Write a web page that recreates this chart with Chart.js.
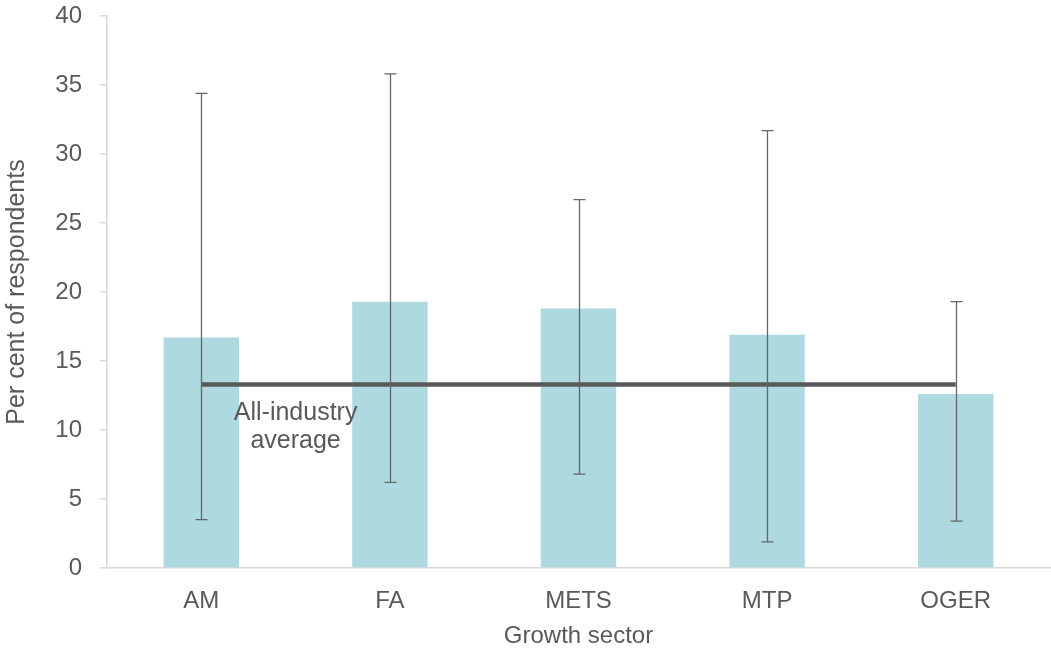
<!DOCTYPE html>
<html lang="en">

<head>
    <meta charset="UTF-8">
    <title>Growth sector chart</title>
    <script src="https://cdn.jsdelivr.net/npm/chart.js"></script>
    <style>
        body {
            margin: 0;
            background: #fff;
        }

        #chart-container {
            width: 1051px;
            height: 651px;
        }
    </style>
</head>

<body>
    <div id="chart-container">
        <canvas id="sectorChart"></canvas>
    </div>

    <script>
        // data
        var sectors = ['AM', 'FA', 'METS', 'MTP', 'OGER'];
        var shares = [16.7, 19.3, 18.8, 16.9, 12.6];
        var errLow = [3.5, 6.2, 6.8, 1.9, 3.4];
        var errHigh = [34.4, 35.8, 26.7, 31.7, 19.3];
        var industryAvg = 13.3;
        var yTicks = [0, 5, 10, 15, 20, 25, 30, 35, 40];

        var fontFamily = '"Liberation Sans", Arial, sans-serif';
        var textColor = '#595959';

        // error bars + average label
        var extras = {
            id: 'extras',
            afterDatasetsDraw: function (chart) {
                var ctx = chart.ctx;
                var x = chart.scales.x;
                var y = chart.scales.y;
                ctx.save();
                ctx.strokeStyle = '#666666';
                ctx.lineWidth = 1.3;
                for (var i = 0; i < sectors.length; i++) {
                    var px = Math.round(x.getPixelForValue(i)) + 0.5;
                    var top = y.getPixelForValue(errHigh[i]);
                    var bot = y.getPixelForValue(errLow[i]);
                    ctx.beginPath();
                    ctx.moveTo(px, top);
                    ctx.lineTo(px, bot);
                    ctx.moveTo(px - 6, top);
                    ctx.lineTo(px + 6, top);
                    ctx.moveTo(px - 6, bot);
                    ctx.lineTo(px + 6, bot);
                    ctx.stroke();
                }
                ctx.fillStyle = textColor;
                ctx.font = '25px ' + fontFamily;
                ctx.textAlign = 'center';
                ctx.textBaseline = 'middle';
                var lx = (x.getPixelForValue(0) + x.getPixelForValue(1)) / 2;
                ctx.fillText('All-industry', lx, y.getPixelForValue(11.2));
                ctx.fillText('average', lx, y.getPixelForValue(9.2));
                ctx.restore();
            }
        };

        var ctx = document.getElementById('sectorChart').getContext('2d');
        var sectorChart = new Chart(ctx, {
            type: 'bar',
            data: {
                labels: sectors,
                datasets: [
                    {
                        type: 'line',
                        label: 'All-industry average',
                        data: sectors.map(function () { return industryAvg; }),
                        borderColor: '#595959',
                        borderWidth: 4.5,
                        pointRadius: 0,
                        order: 0
                    },
                    {
                        label: 'Per cent of respondents',
                        data: shares,
                        backgroundColor: '#aed9e0',
                        barPercentage: 0.4,
                        categoryPercentage: 1,
                        order: 1
                    }
                ]
            },
            options: {
                responsive: true,
                maintainAspectRatio: false,
                animation: false,
                layout: {
                    padding: { top: 16, right: 1, left: 0, bottom: 0 }
                },
                plugins: {
                    legend: { display: false },
                    tooltip: { enabled: false }
                },
                scales: {
                    x: {
                        grid: { display: false },
                        border: { color: '#d9d9d9', width: 1.5 },
                        ticks: {
                            color: textColor,
                            font: { family: fontFamily, size: 24 },
                            padding: 11
                        },
                        title: {
                            display: true,
                            text: 'Growth sector',
                            color: textColor,
                            font: { family: fontFamily, size: 24 },
                            padding: { top: 9, bottom: 0 }
                        },
                        afterFit: function (s) { s.height = 83; }
                    },
                    y: {
                        min: 0,
                        max: 40,
                        afterBuildTicks: function (s) {
                            s.ticks = yTicks.map(function (v) { return { value: v }; });
                        },
                        grid: {
                            drawOnChartArea: false,
                            drawTicks: true,
                            tickLength: 7,
                            color: '#d9d9d9',
                            lineWidth: 1.5
                        },
                        border: { color: '#d9d9d9', width: 1.5 },
                        ticks: {
                            color: textColor,
                            font: { family: fontFamily, size: 24 },
                            padding: 18
                        },
                        title: {
                            display: true,
                            text: 'Per cent of respondents',
                            color: textColor,
                            font: { family: fontFamily, size: 25 },
                            padding: { top: 2, bottom: 0 }
                        },
                        afterFit: function (s) {
                            s.width = 107;
                            s.paddingTop = 0;
                            s.paddingBottom = 0;
                        }
                    }
                }
            },
            plugins: [extras]
        });
    </script>
</body>

</html>
